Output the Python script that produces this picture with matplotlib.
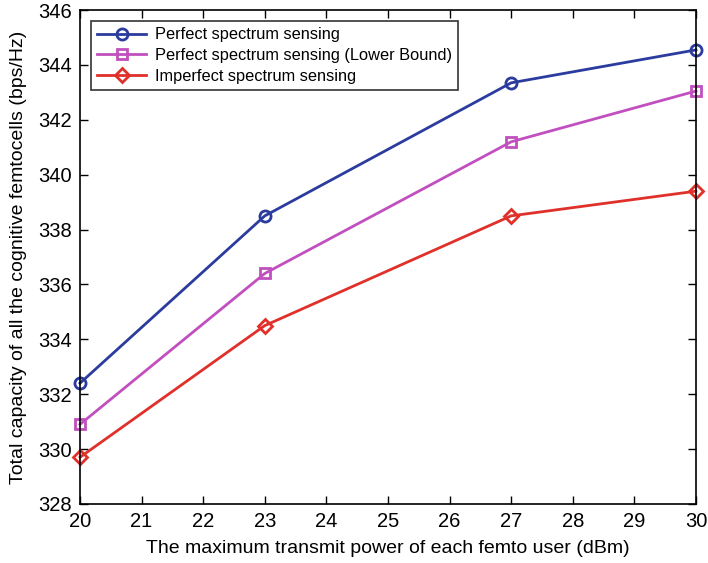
import matplotlib
matplotlib.use('Agg')
import matplotlib.pyplot as plt

plt.rcParams['font.family'] = ['Liberation Sans', 'DejaVu Sans']

# donnees
power = [20, 23, 27, 30]
perfect = [332.4, 338.5, 343.35, 344.55]
perfect_lb = [330.9, 336.4, 341.2, 343.05]
imperfect = [329.7, 334.5, 338.5, 339.4]

fig = plt.figure(figsize=(7.08, 5.63), dpi=100)
ax = fig.add_axes([0.113, 0.105, 0.870, 0.877])

ax.plot(power, perfect, '-o', color='#2b3c9e', lw=2, ms=8, mfc='none', mew=2,
        clip_on=False, label='Perfect spectrum sensing')
ax.plot(power, perfect_lb, '-s', color='#c14fbf', lw=2, ms=7, mfc='none', mew=2,
        clip_on=False, label='Perfect spectrum sensing (Lower Bound)')
ax.plot(power, imperfect, '-D', color='#e0302a', lw=2, ms=7, mfc='none', mew=2,
        clip_on=False, label='Imperfect spectrum sensing')

ax.set_xlim(20, 30)
ax.set_ylim(328, 346)
ax.set_xticks(range(20, 31))
ax.set_yticks(range(328, 347, 2))
ax.tick_params(direction='in', top=True, right=True, labelsize=14.5, length=6, width=1, pad=6)
for s in ax.spines.values():
    s.set_linewidth(1.2)

ax.set_xlabel('The maximum transmit power of each femto user (dBm)', fontsize=14, labelpad=6)
ax.set_ylabel('Total capacity of all the cognitive femtocells (bps/Hz)', fontsize=14, labelpad=8)

leg = ax.legend(loc='upper left', fontsize=11.8, fancybox=False, edgecolor='black',
                borderaxespad=0.65, handlelength=3.0, handletextpad=0.5,
                labelspacing=0.35, borderpad=0.4)
leg.get_frame().set_linewidth(1.2)

fig.savefig('out.png', dpi=100)
